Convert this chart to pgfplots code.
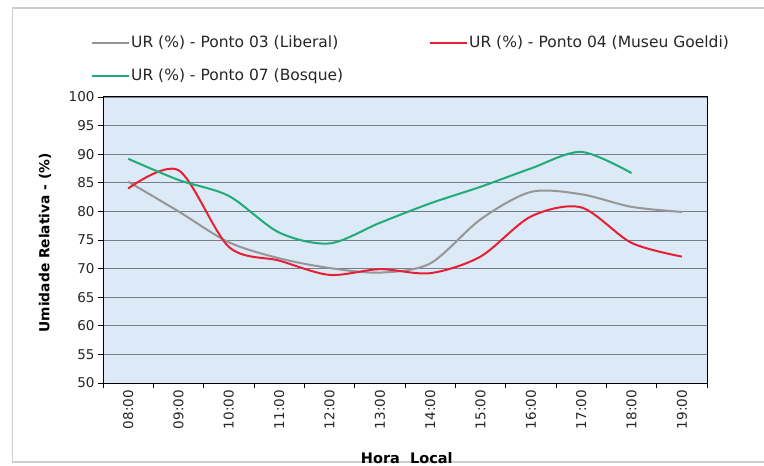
\documentclass[border=0pt]{standalone}
\usepackage{fontspec}
\setmainfont{DejaVu Sans}
\usepackage{pgfplots}
\pgfplotsset{compat=1.18}
\definecolor{bgblue}{RGB}{220,233,246}
\definecolor{gridc}{RGB}{120,125,135}
\definecolor{lgray}{RGB}{150,150,150}
\definecolor{lred}{RGB}{232,30,50}
\definecolor{lgreen}{RGB}{30,172,120}
\definecolor{framec}{RGB}{205,205,205}
\begin{document}
\begin{tikzpicture}
\path[use as bounding box] (0bp,0bp) rectangle (764bp,466bp);
\fill[white] (0bp,0bp) rectangle (764bp,466bp);
\draw[framec, line width=1.5bp] (780bp,4bp) -- (12.5bp,4bp) -- (12.5bp,458bp) -- (780bp,458bp);
\begin{axis}[
  at={(103bp,83bp)}, anchor=south west,
  scale only axis, width=604bp, height=286bp,
  xmin=-0.5, xmax=11.5, ymin=50, ymax=100,
  xtick={-0.5,0.5,1.5,2.5,3.5,4.5,5.5,6.5,7.5,8.5,9.5,10.5,11.5},
  x tick label as interval,
  xticklabels={08:00,09:00,10:00,11:00,12:00,13:00,14:00,15:00,16:00,17:00,18:00,19:00},
  ytick={50,55,...,100},
  xtick pos=bottom, ytick pos=left,
  tick align=outside, major tick length=5bp,
  tick style={black, line width=0.8bp},
  axis line style={black, line width=1bp},
  ymajorgrids, major grid style={gridc, line width=0.6bp},
  axis background/.style={fill=bgblue},
  /pgf/number format/assume math mode=true,
  ticklabel style={font=\fontsize{13.5bp}{16bp}\selectfont, text=black!85},
  xticklabel style={rotate=90, anchor=east, inner sep=2bp},
  every axis x label/.style={at={(axis description cs:0.503,-0.264)}, anchor=center, font=\bfseries\fontsize{14.5bp}{17bp}\selectfont},
  every axis y label/.style={at={(axis description cs:-0.096,0.49)}, rotate=90, anchor=center, font=\bfseries\fontsize{13.8bp}{16bp}\selectfont},
  xlabel={Hora\ \ Local},
  ylabel={Umidade Relativa - (\%)},
  legend columns=2,
  legend image code/.code={\draw[#1] (0bp,0bp) -- (37bp,0bp);},
  legend style={at={(axis description cs:-0.0248,1.2238)}, anchor=north west, draw=none, fill=none,
    font=\fontsize{15.5bp}{18bp}\selectfont, text=black!85, row sep=17bp,
    nodes={inner sep=1bp, text height=11bp, text depth=3bp, anchor=west}},
  every axis plot/.append style={line width=2bp, smooth},
]
\addplot[lgray] coordinates {(0,85.2) (1,80.0) (2,74.6) (3,71.8) (4,70.1) (5,69.3) (6,70.9) (7,78.6) (8,83.4) (9,83.0) (10,80.8) (11,79.9)};
\addlegendentry{\makebox[297bp][l]{UR (\%) - Ponto 03 (Liberal)}}
\addplot[lred] coordinates {(0,84.0) (1,87.2) (2,73.8) (3,71.4) (4,68.9) (5,69.9) (6,69.2) (7,72.1) (8,79.1) (9,80.7) (10,74.5) (11,72.1)};
\addlegendentry{UR (\%) - Ponto 04 (Museu Goeldi)}
\addplot[lgreen] coordinates {(0,89.2) (1,85.5) (2,82.7) (3,76.3) (4,74.4) (5,78.0) (6,81.4) (7,84.3) (8,87.5) (9,90.4) (10,86.7)};
\addlegendentry{UR (\%) - Ponto 07 (Bosque)}
\end{axis}
\end{tikzpicture}
\end{document}
